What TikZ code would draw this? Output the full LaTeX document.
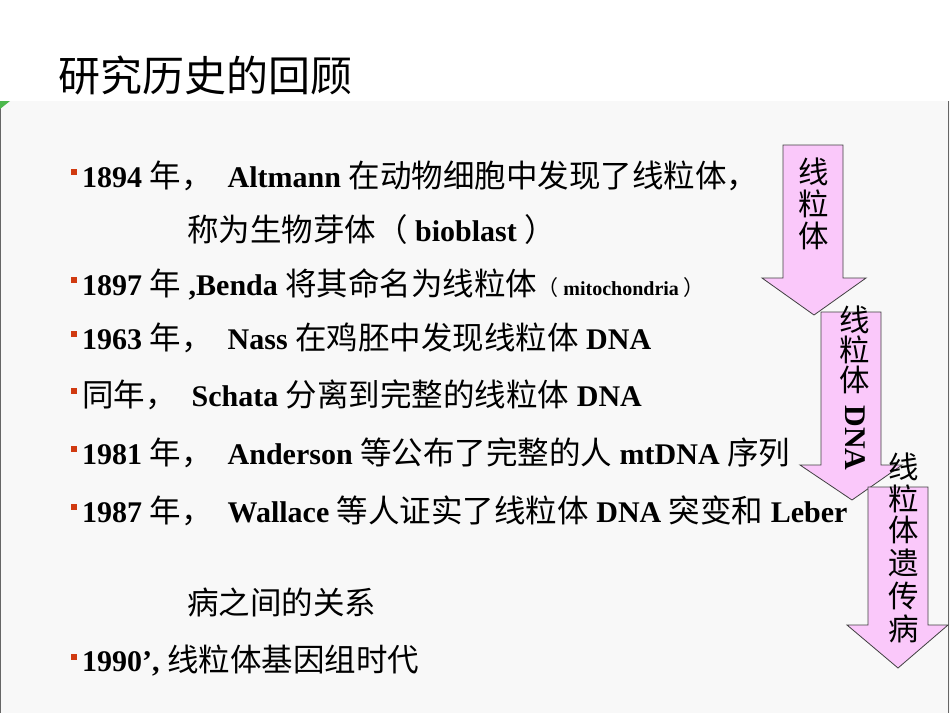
\documentclass[tikz,border=0pt]{standalone}
\usepackage{fontspec}
\setmainfont{Liberation Serif}
\newfontfamily\cjk{Noto Sans CJK SC}[Scale=1.05]
\newcommand{\zh}[1]{{\cjk\mdseries #1}}
\definecolor{pinkfill}{HTML}{FAC8FA}
\definecolor{bulletred}{HTML}{D03A10}
\definecolor{panel}{HTML}{F8F8F8}
\begin{document}
\begin{tikzpicture}[x=1pt,y=-1pt,
  line/.style={anchor=west,inner sep=0pt,font=\fontsize{30}{32}\selectfont\bfseries},
  bul/.style={fill=bulletred,minimum size=6pt,inner sep=0pt},
  arr/.style={fill=pinkfill,draw=black!75,line width=0.8pt},
  vtext/.style={inner sep=0pt,font=\fontsize{29}{31}\selectfont}]
\useasboundingbox (0,0) rectangle (950,713);
\fill[white] (0,0) rectangle (950,713);
\fill[panel] (0,101) rectangle (950,713);
\draw[black!60,line width=1pt] (0.5,101) -- (0.5,713);
\draw[black!60,line width=1pt] (948.5,101) -- (948.5,713);
\fill[green!60!black!70] (0,101) -- (10,101) -- (0,109) -- cycle;
\node[anchor=west,inner sep=0pt,font=\fontsize{40}{42}\selectfont] (title) at (58,75) {\zh{研究历史的回顾}};

\node[bul] (b1) at (74,172) {};
\node[line] (l1) at (82,176) {1894 \zh{年，}\ \ Altmann \zh{在动物细胞中发现了线粒体，}};
\node[line] (l2) at (187,230) {\zh{称为生物芽体（} bioblast \zh{）}};
\node[bul] (b3) at (74,280) {};
\node[line] (l3) at (82,284) {1897 \zh{年} ,Benda \zh{将其命名为线粒体}{\fontsize{20}{22}\selectfont\zh{（} mitochondria \zh{）}}};
\node[bul] (b4) at (74,334) {};
\node[line] (l4) at (82,338) {1963 \zh{年，}\ \ Nass \zh{在鸡胚中发现线粒体} DNA};
\node[bul] (b5) at (74,391) {};
\node[line] (l5) at (82,395) {\zh{同年，}\ \ Schata \zh{分离到完整的线粒体} DNA};
\node[bul] (b6) at (74,449) {};
\node[line] (l6) at (82,453) {1981 \zh{年，}\ \ Anderson \zh{等公布了完整的人} mtDNA \zh{序列}};
\node[bul] (b7) at (74,507) {};
\node[line] (l7) at (82,511) {1987 \zh{年，}\ \ Wallace \zh{等人证实了线粒体} DNA \zh{突变和} Leber};
\node[line] (l8) at (187,602) {\zh{病之间的关系}};
\node[bul] (b9) at (74,657) {};
\node[line] (l9) at (82,661) {1990’,\ \zh{线粒体基因组时代}};

\draw[arr] (783,145) -- (843,145) -- (843,278) -- (866,278) -- (814,315) -- (762,278) -- (783,278) -- cycle;
\node[vtext] (a1a) at (814,172) {\zh{线}};
\node[vtext] (a1b) at (814,204) {\zh{粒}};
\node[vtext] (a1c) at (814,236) {\zh{体}};

\draw[arr] (821,312) -- (881,312) -- (881,465) -- (902,465) -- (852,500) -- (800,465) -- (821,465) -- cycle;
\node[vtext] (a2a) at (855,320) {\zh{线}};
\node[vtext] (a2b) at (855,350) {\zh{粒}};
\node[vtext] (a2c) at (855,380) {\zh{体}};
\node[vtext,rotate=-90,font=\fontsize{30}{32}\selectfont\bfseries] (a2d) at (855,438) {DNA};

\draw[arr] (868,487) -- (928,487) -- (928,625) -- (948,625) -- (898,668) -- (847,625) -- (868,625) -- cycle;
\node[vtext] (a3a) at (904,467) {\zh{线}};
\node[vtext] (a3b) at (904,499) {\zh{粒}};
\node[vtext] (a3c) at (904,530) {\zh{体}};
\node[vtext] (a3d) at (904,563) {\zh{遗}};
\node[vtext] (a3e) at (904,596) {\zh{传}};
\node[vtext] (a3f) at (904,629) {\zh{病}};
\end{tikzpicture}
\end{document}
